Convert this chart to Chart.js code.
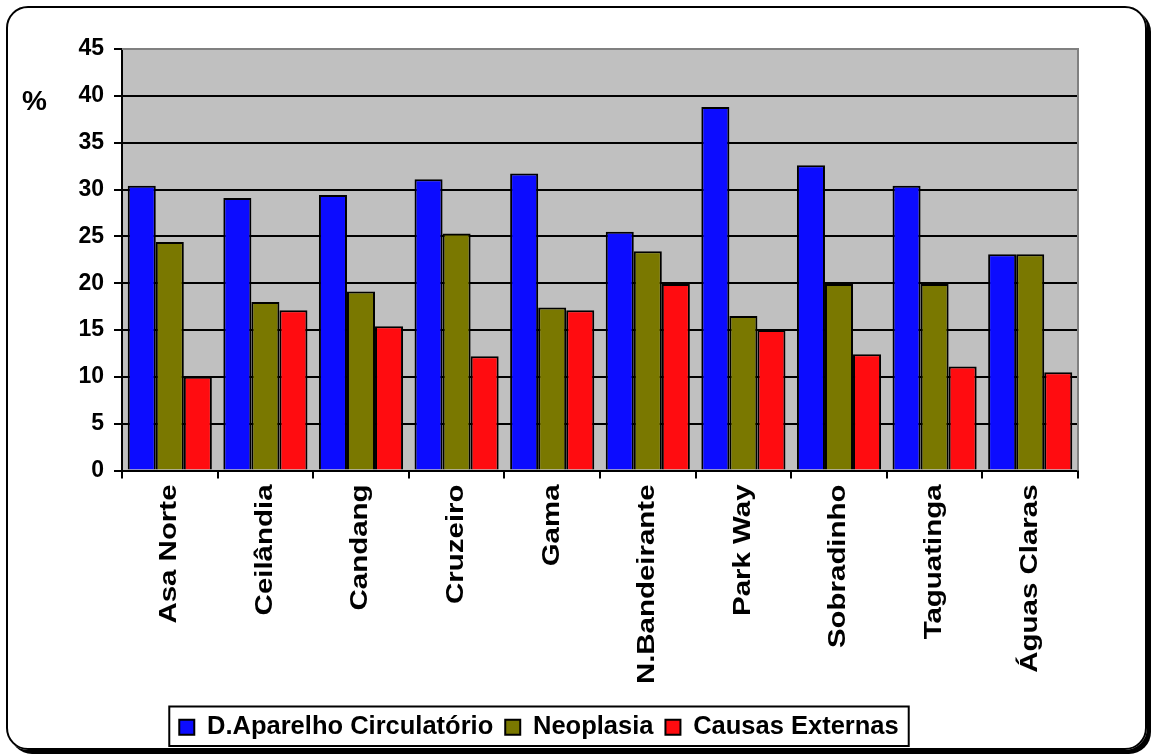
<!DOCTYPE html>
<html>
<head>
<meta charset="utf-8">
<script src="https://cdn.jsdelivr.net/npm/chart.js@4/dist/chart.umd.min.js"></script>
<style>
  body { margin: 0; background: #fff; }
  #frame { position: absolute; left: 6px; top: 6px; width: 1137px; height: 740px; border: 2px solid #000; border-radius: 22px; box-shadow: 4px 4px 0 #000; }
  #wrap { position: absolute; left: 0; top: 0; width: 1153px; height: 756px; }
</style>
</head>
<body>
<div id="frame"></div>
<div id="wrap"><canvas id="c"></canvas></div>
<script>
const categories = ['Asa Norte', 'Ceilândia', 'Candang', 'Cruzeiro', 'Gama', 'N.Bandeirante', 'Park Way', 'Sobradinho', 'Taguatinga', 'Águas Claras'];
const circulatorio = [30.4, 29.1, 29.4, 31.1, 31.7, 25.5, 38.8, 32.6, 30.4, 23.1];
const neoplasia = [24.4, 18.0, 19.1, 25.3, 17.4, 23.4, 16.5, 19.9, 19.9, 23.1];
const externas = [10.0, 17.1, 15.4, 12.2, 17.1, 19.9, 15.0, 12.4, 11.1, 10.5];
const yTicks = [0, 5, 10, 15, 20, 25, 30, 35, 40, 45];

const fam = 'Arial, "Liberation Sans", sans-serif';

const decor = {
  id: 'decor',
  beforeDraw(chart) {
    const { ctx, chartArea: a } = chart;
    ctx.save();
    ctx.fillStyle = '#c0c0c0';
    ctx.fillRect(a.left, a.top, a.right - a.left, a.bottom - a.top);
    ctx.restore();
  },
  afterDraw(chart) {
    const { ctx, chartArea: a, legend: l, scales } = chart;
    ctx.save();
    ctx.strokeStyle = '#808080';
    ctx.lineWidth = 2;
    ctx.beginPath();
    ctx.moveTo(a.left, a.top); ctx.lineTo(a.right, a.top); ctx.lineTo(a.right, a.bottom);
    ctx.stroke();
    // category labels, rotated and stretched like the original
    ctx.fillStyle = '#000';
    ctx.font = 'bold 23px ' + fam;
    ctx.textAlign = 'right';
    ctx.textBaseline = 'middle';
    categories.forEach((c, i) => {
      const x = scales.x.getPixelForTick(i);
      ctx.save();
      ctx.translate(x, a.bottom + 14);
      ctx.rotate(-Math.PI / 2);
      ctx.scale(1.28, 1);
      ctx.fillText(c, 0, 0);
      ctx.restore();
    });
    // box round the legend items only
    const hb = l.legendHitBoxes;
    const x0 = Math.min(...hb.map(b => b.left)) - 10;
    const x1 = Math.max(...hb.map(b => b.left + b.width)) + 10;
    ctx.strokeStyle = '#000';
    ctx.strokeRect(x0, l.top + 4, x1 - x0, l.height - 8);
    ctx.textAlign = 'left';
    ctx.textBaseline = 'alphabetic';
    ctx.font = 'bold 28px ' + fam;
    ctx.fillText('%', 22, 110);
    ctx.restore();
  }
};

new Chart(document.getElementById('c'), {
  type: 'bar',
  data: {
    labels: categories,
    datasets: [
      { label: 'D.Aparelho Circulatório', data: circulatorio, backgroundColor: '#0c0cff' },
      { label: 'Neoplasia', data: neoplasia, backgroundColor: '#7a7800' },
      { label: 'Causas Externas', data: externas, backgroundColor: '#ff0c10' }
    ].map(d => Object.assign(d, { borderColor: '#000', borderWidth: 2, borderSkipped: 'bottom', categoryPercentage: 0.88, barPercentage: 1 }))
  },
  options: {
    responsive: true,
    maintainAspectRatio: false,
    animation: false,
    layout: { padding: { left: 0, right: 75, top: 49, bottom: 6 } },
    plugins: {
      tooltip: { enabled: false },
      legend: {
        position: 'bottom',
        labels: { color: '#000', font: { family: fam, size: 25.5, weight: 'bold' }, boxWidth: 15, boxHeight: 15, padding: 12, useBorderRadius: false },
      }
    },
    scales: {
      x: {
        afterFit(s) { s.height = 232; },
        grid: { display: true, drawOnChartArea: false, color: '#000', lineWidth: 2, tickLength: 8, offset: true },
        border: { color: '#000', width: 2 },
        ticks: { display: false }
      },
      y: {
        min: 0, max: 45,
        afterFit(s) { s.width = 122; },
        afterBuildTicks(s) { s.ticks = yTicks.map(v => ({ value: v })); },
        grid: { color: '#000', lineWidth: 2, tickLength: 8 },
        border: { color: '#000', width: 2 },
        ticks: { color: '#000', font: { family: fam, size: 23, weight: 'bold' }, padding: 10 }
      }
    }
  },
  plugins: [decor]
});
</script>
</body>
</html>
